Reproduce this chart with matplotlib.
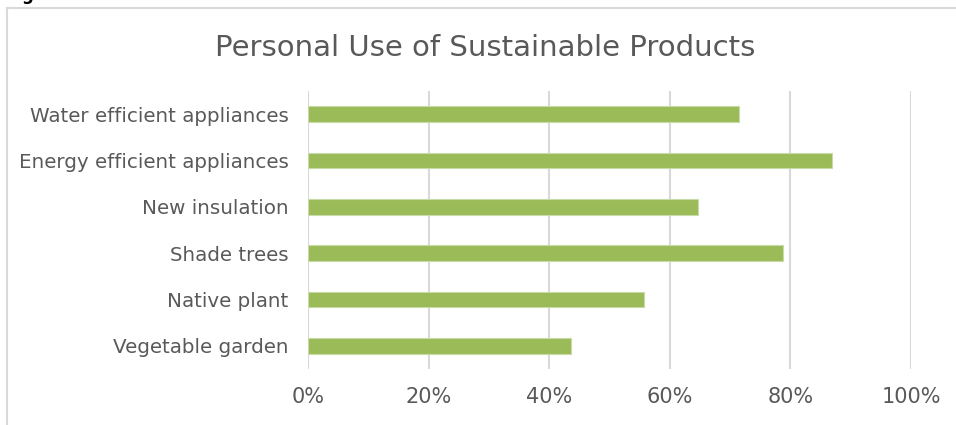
import matplotlib.pyplot as plt
from matplotlib.lines import Line2D
from matplotlib.ticker import FuncFormatter

categories = ["Vegetable garden", "Native plant", "Shade trees", "New insulation",
              "Energy efficient appliances", "Water efficient appliances"]
values = [43.6, 55.7, 78.8, 64.7, 86.9, 71.5]
x_ticks = [0, 20, 40, 60, 80, 100]

plt.rcParams['font.family'] = ['DejaVu Sans']
text_color = "#595959"

fig = plt.figure(figsize=(9.56, 4.25), dpi=100)
ax = fig.add_axes([0.3222, 0.1318, 0.6307, 0.6541])

ax.barh(range(len(categories)), values, height=0.34, color="#9bbb59",
        edgecolor="#c8dba6", linewidth=0.8, zorder=3)

ax.set_xlim(0, 100)
ax.set_ylim(-0.5, len(categories) - 0.5)
ax.set_xticks(x_ticks)
ax.xaxis.set_major_formatter(FuncFormatter(lambda v, p: "{:.0f}%".format(v)))
ax.set_yticks(range(len(categories)))
ax.set_yticklabels(categories)
ax.tick_params(axis="y", length=0, colors=text_color, labelsize=14.3, pad=14)
ax.tick_params(axis="x", length=0, colors=text_color, labelsize=15, pad=13)
ax.grid(axis="x", color="#d9d9d9", linewidth=1.5, zorder=0)
for s in ax.spines.values():
    s.set_visible(False)

fig.text(0.508, 0.887, "Personal Use of Sustainable Products", ha="center", va="center",
         fontsize=21, color=text_color)

# chart frame (only top and left edges visible in the crop)
fig.add_artist(Line2D([0.0075, 1.01], [0.981, 0.981], color="#d9d9d9", linewidth=1.5))
fig.add_artist(Line2D([0.0075, 0.0075], [-0.01, 0.981], color="#d9d9d9", linewidth=1.5))
fig.text(0.028, 1.012, "g", fontsize=12, color="black", ha="center", va="center",
         fontweight="bold")

fig.savefig("out.png", dpi=100, facecolor="white")
